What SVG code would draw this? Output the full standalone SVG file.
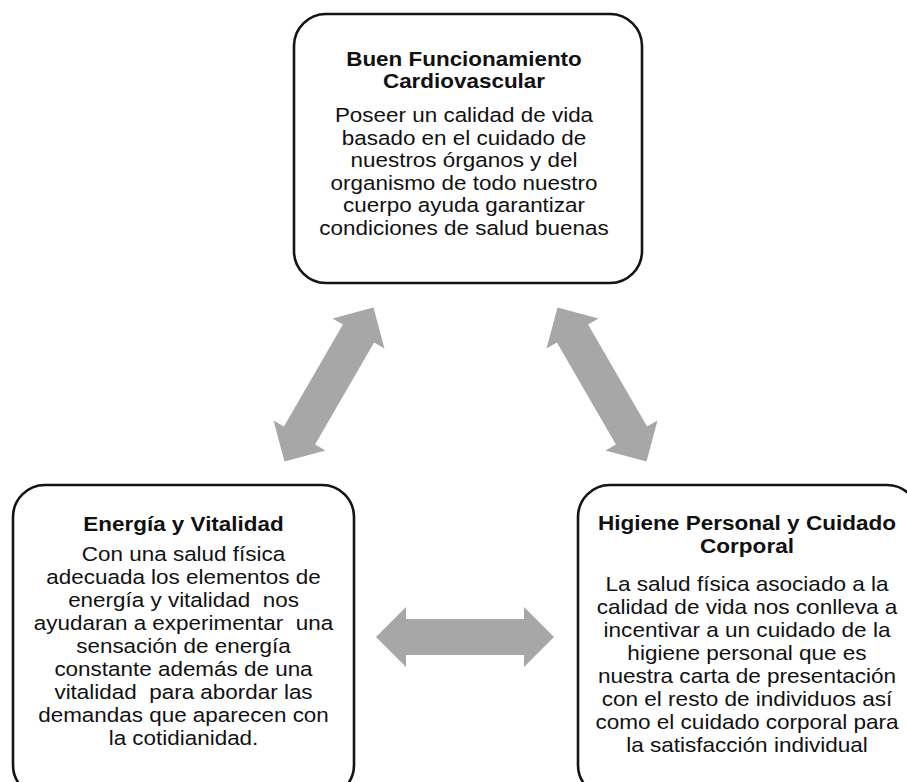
<svg xmlns="http://www.w3.org/2000/svg" width="907" height="782" viewBox="0 0 907 782">
<style>
.box{fill:#ffffff;stroke:#141414;stroke-width:2.6}
.t{font-family:"Liberation Sans",Arial,sans-serif;font-size:20.5px;font-weight:bold;fill:#111;text-anchor:middle}
.b{font-family:"Liberation Sans",Arial,sans-serif;font-size:20.5px;fill:#111;text-anchor:middle}
.arrow{fill:#a7a7a7}
</style>
<defs>
<path id="dbl" d="M-89,0 L-59,-30 L-59,-18 L59,-18 L59,-30 L89,0 L59,30 L59,18 L-59,18 L-59,30 Z"/>
</defs>
<rect width="907" height="782" fill="#ffffff"/>
<g id="connectors" class="arrow">
<use href="#dbl" transform="translate(329,384.5) rotate(-60)"/>
<use href="#dbl" transform="translate(602,384.5) rotate(60)"/>
<use href="#dbl" transform="translate(465,637)"/>
</g>
<g id="node-cardiovascular">
<rect class="box" x="294" y="14" width="348" height="269" rx="32" ry="32"/>
<g transform="translate(464,0) scale(1.095,1)">
<text class="t" x="0" y="66">Buen Funcionamiento</text>
<text class="t" x="0" y="88">Cardiovascular</text>
<text class="b" x="0" y="122">Poseer un calidad de vida</text>
<text class="b" x="0" y="144.6">basado en el cuidado de</text>
<text class="b" x="0" y="167.2">nuestros órganos y del</text>
<text class="b" x="0" y="189.8">organismo de todo nuestro</text>
<text class="b" x="0" y="212.4">cuerpo ayuda garantizar</text>
<text class="b" x="0" y="235">condiciones de salud buenas</text>
</g>
</g>
<g id="node-energia">
<rect class="box" x="13" y="485" width="341" height="312" rx="32" ry="32"/>
<g transform="translate(183.5,0) scale(1.095,1)">
<text class="t" x="0" y="531">Energía y Vitalidad</text>
<text class="b" x="0" y="561">Con una salud física</text>
<text class="b" x="0" y="584">adecuada los elementos de</text>
<text class="b" x="0" y="607" xml:space="preserve">energía y vitalidad  nos</text>
<text class="b" x="0" y="630" xml:space="preserve">ayudaran a experimentar  una</text>
<text class="b" x="0" y="653">sensación de energía</text>
<text class="b" x="0" y="676">constante además de una</text>
<text class="b" x="0" y="699" xml:space="preserve">vitalidad  para abordar las</text>
<text class="b" x="0" y="722">demandas que aparecen con</text>
<text class="b" x="0" y="745">la cotidianidad.</text>
</g>
</g>
<g id="node-higiene">
<rect class="box" x="578" y="485" width="341" height="312" rx="32" ry="32"/>
<g transform="translate(747,0) scale(1.1,1)">
<text class="t" x="0" y="530">Higiene Personal y Cuidado</text>
<text class="t" x="0" y="553">Corporal</text>
<text class="b" x="0" y="591">La salud física asociado a la</text>
<text class="b" x="0" y="614">calidad de vida nos conlleva a</text>
<text class="b" x="0" y="637">incentivar a un cuidado de la</text>
<text class="b" x="0" y="660">higiene personal que es</text>
<text class="b" x="0" y="683">nuestra carta de presentación</text>
<text class="b" x="0" y="706">con el resto de individuos así</text>
<text class="b" x="0" y="729">como el cuidado corporal para</text>
<text class="b" x="0" y="752">la satisfacción individual</text>
</g>
</g>
</svg>
